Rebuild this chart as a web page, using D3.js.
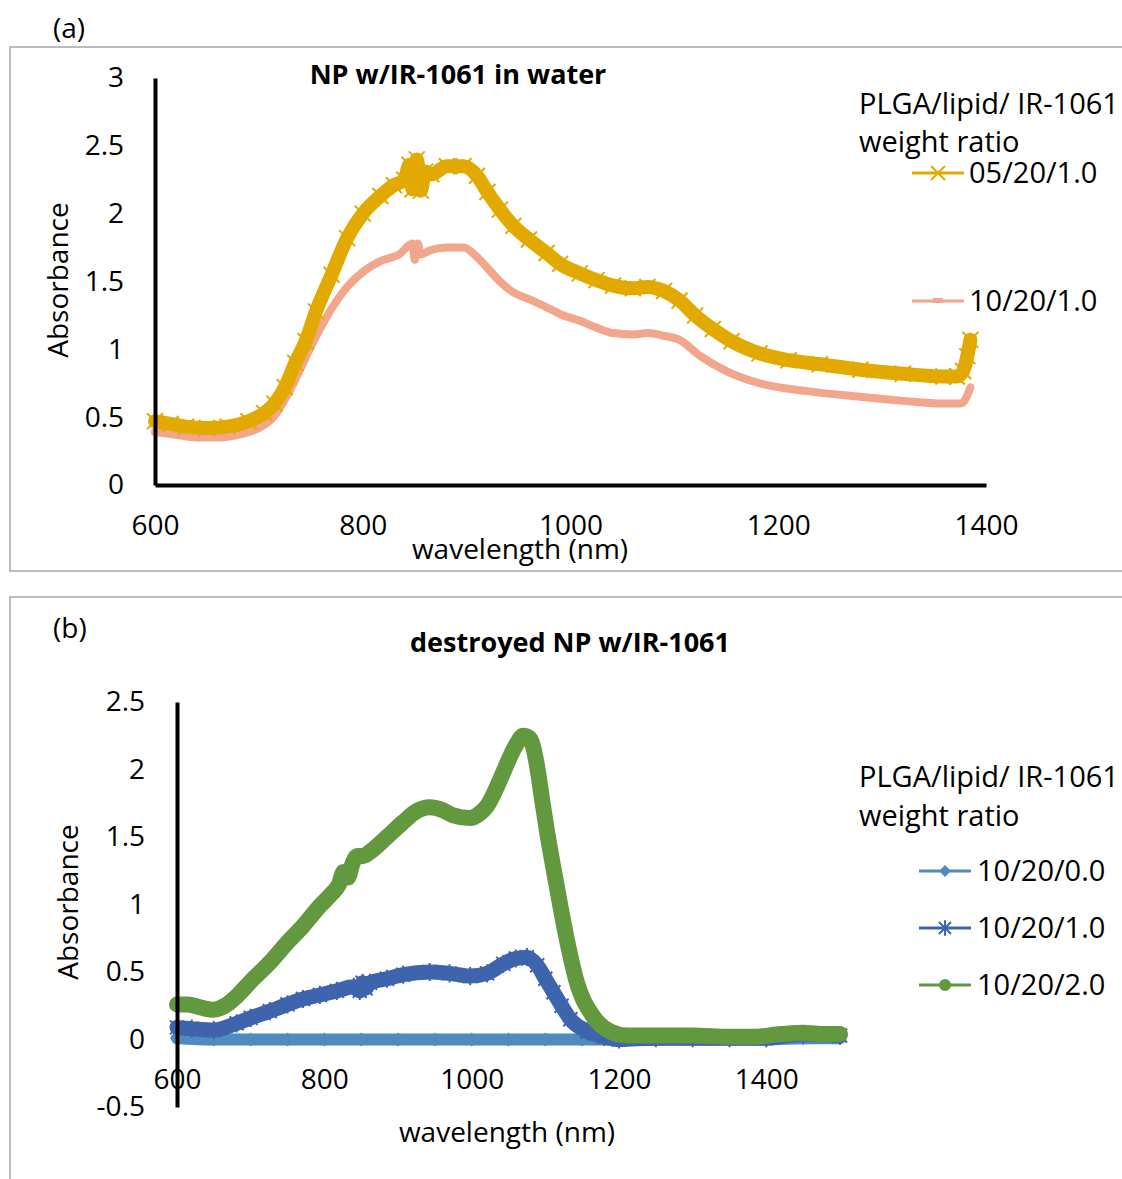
<!doctype html>
<html lang="en">
<head>
<meta charset="utf-8">
<script src="https://cdnjs.cloudflare.com/ajax/libs/d3/7.8.5/d3.min.js"></script>
<style type="text/css">
	body {
		margin: 0;
		background: #fff;
		font-family: 'Open Sans', sans-serif;
	}
	.tick text {
		font-family: 'Open Sans', sans-serif;
		font-size: 28px;
		fill: #000;
	}
	.lbl {
		font-family: 'Open Sans', sans-serif;
		font-size: 28px;
		fill: #000;
	}
	.leg {
		font-family: 'Open Sans', sans-serif;
		font-size: 29px;
		fill: #000;
	}
	.ttl {
		font-family: 'Open Sans', sans-serif;
		font-size: 27px;
		font-weight: 700;
		fill: #000;
	}
</style>
</head>
<body>
<script>

// ---- panel (a): NP w/IR-1061 in water ----
const aTicksX = [600, 800, 1000, 1200, 1400]
const aTicksY = [0, 0.5, 1, 1.5, 2, 2.5, 3]

// 05/20/1.0
const aGoldWl  = [600, 615, 630, 650, 670, 690, 705, 715, 725, 735, 745, 755, 770, 785, 800, 817, 830, 840, 845, 848, 852, 856, 860, 866, 881, 897, 910, 920, 932, 945, 960, 977, 990, 1009, 1025, 1041, 1060, 1074, 1090, 1105, 1120, 1137, 1155, 1182, 1210, 1240, 1279, 1320, 1359, 1372, 1378, 1382, 1385]
const aGoldAbs = [0.47, 0.45, 0.43, 0.42, 0.43, 0.47, 0.53, 0.60, 0.72, 0.90, 1.06, 1.28, 1.55, 1.82, 2.00, 2.13, 2.21, 2.25, 2.36, 2.18, 2.40, 2.17, 2.31, 2.29, 2.35, 2.35, 2.28, 2.16, 2.03, 1.91, 1.81, 1.71, 1.63, 1.56, 1.51, 1.47, 1.45, 1.46, 1.43, 1.36, 1.25, 1.15, 1.06, 0.97, 0.92, 0.89, 0.85, 0.82, 0.80, 0.80, 0.84, 0.95, 1.07]

// 10/20/1.0
const aPinkWl  = [600, 620, 640, 660, 680, 700, 714, 730, 752, 770, 785, 800, 817, 835, 848, 850, 853, 856, 865, 881, 897, 910, 920, 932, 945, 960, 977, 990, 1009, 1025, 1041, 1060, 1074, 1090, 1105, 1125, 1150, 1182, 1230, 1279, 1320, 1359, 1375, 1380, 1385]
const aPinkAbs = [0.39, 0.37, 0.35, 0.35, 0.37, 0.42, 0.50, 0.70, 1.05, 1.30, 1.46, 1.57, 1.65, 1.70, 1.78, 1.66, 1.78, 1.70, 1.73, 1.75, 1.75, 1.68, 1.60, 1.50, 1.42, 1.37, 1.31, 1.26, 1.21, 1.16, 1.12, 1.11, 1.12, 1.10, 1.07, 0.95, 0.84, 0.75, 0.69, 0.65, 0.62, 0.60, 0.60, 0.63, 0.72]

// ---- panel (b): destroyed NP w/IR-1061 ----
const bTicksX = [600, 800, 1000, 1200, 1400]
const bTicksY = [-0.5, 0, 0.5, 1, 1.5, 2, 2.5]

// 10/20/0.0
const bLightWl  = [600, 650, 700, 750, 800, 850, 900, 950, 1000, 1050, 1100, 1150, 1200, 1250, 1300, 1350, 1400, 1450, 1500]
const bLightAbs = [0.01, 0.00, 0.00, 0.00, 0.00, 0.00, 0.00, 0.00, 0.00, 0.00, 0.00, 0.00, 0.00, 0.00, 0.00, 0.00, 0.00, 0.01, 0.01]

// 10/20/1.0
const bBlueWl  = [600, 620, 650, 681, 700, 726, 750, 771, 794, 817, 840, 848, 852, 856, 862, 885, 907, 943, 970, 998, 1021, 1043, 1060, 1075, 1089, 1100, 1111, 1122, 1134, 1157, 1180, 1200, 1250, 1300, 1350, 1400, 1450, 1500]
const bBlueAbs = [0.09, 0.08, 0.07, 0.12, 0.16, 0.21, 0.26, 0.30, 0.33, 0.36, 0.39, 0.36, 0.42, 0.38, 0.42, 0.45, 0.48, 0.50, 0.49, 0.47, 0.49, 0.56, 0.60, 0.61, 0.55, 0.45, 0.35, 0.25, 0.15, 0.06, 0.02, 0.00, 0.01, 0.01, 0.01, 0.01, 0.04, 0.03]

// 10/20/2.0
const bGreenWl  = [600, 615, 630, 649, 665, 681, 700, 726, 750, 771, 794, 810, 820, 826, 832, 838, 845, 853, 862, 885, 907, 925, 943, 960, 975, 998, 1010, 1021, 1035, 1043, 1060, 1070, 1079, 1088, 1095, 1102, 1110, 1120, 1130, 1143, 1165, 1188, 1210, 1260, 1300, 1350, 1380, 1420, 1450, 1480, 1500]
const bGreenAbs = [0.26, 0.26, 0.24, 0.22, 0.25, 0.32, 0.43, 0.57, 0.72, 0.84, 0.99, 1.08, 1.15, 1.24, 1.20, 1.30, 1.36, 1.36, 1.39, 1.50, 1.61, 1.69, 1.72, 1.70, 1.66, 1.64, 1.67, 1.73, 1.88, 1.98, 2.18, 2.25, 2.23, 2.05, 1.80, 1.55, 1.30, 1.00, 0.72, 0.42, 0.17, 0.06, 0.03, 0.03, 0.03, 0.02, 0.02, 0.04, 0.05, 0.04, 0.04]

const legendTitle = ["PLGA/lipid/ IR-1061", "weight ratio"]

const w = 1122
const h = 1179

const svg = d3.select("body")
	.append("svg")
	.attr("width", w)
	.attr("height", h)

svg.append("rect").attr("width", w).attr("height", h).attr("fill", "#fff")

// panel frames
svg.append("rect")
	.attr("x", 10).attr("y", 47).attr("width", 1130).attr("height", 524)
	.attr("fill", "none").attr("stroke", "#a6a6a6").attr("stroke-width", 1.5)
svg.append("rect")
	.attr("x", 10).attr("y", 597).attr("width", 1130).attr("height", 620)
	.attr("fill", "none").attr("stroke", "#a6a6a6").attr("stroke-width", 1.5)

// marker shapes
const crossPath = (s) => `M${-s},${-s}L${s},${s}M${-s},${s}L${s},${-s}`
const starPath = (s) => `M${-s},${-s}L${s},${s}M${-s},${s}L${s},${-s}M0,${-s * 1.3}L0,${s * 1.3}`
const diamondPath = (s) => `M0,${-s}L${s},0L0,${s}L${-s},0Z`

let drawSeries = (g, xs, ys, wl, ab, color, width) => {
	const pts = wl.map((d, i) => [d, ab[i]])
	const line = d3.line()
		.x(d => xs(d[0]))
		.y(d => ys(d[1]))
		.curve(d3.curveMonotoneX)
	g.append("path")
		.datum(pts)
		.attr("d", line)
		.attr("fill", "none")
		.attr("stroke", color)
		.attr("stroke-width", width)
		.attr("stroke-linecap", "round")
		.attr("stroke-linejoin", "round")
	return pts
}

// ================= panel (a) =================
const xA = d3.scaleLinear().domain([600, 1400]).range([155, 986])
const yA = d3.scaleLinear().domain([0, 3]).range([485, 78])

const gA = svg.append("g")

const pinkPts = drawSeries(gA, xA, yA, aPinkWl, aPinkAbs, "#f2a68c", 8)
const goldPts = drawSeries(gA, xA, yA, aGoldWl, aGoldAbs, "#e2aa00", 14)

// x markers on the gold series
gA.selectAll(".gx")
	.data(goldPts)
	.enter()
	.append("path")
	.attr("class", "gx")
	.attr("transform", d => `translate(${xA(d[0])},${yA(d[1])})`)
	.attr("d", crossPath(8))
	.attr("stroke", "#e2aa00")
	.attr("stroke-width", 2)
	.attr("fill", "none")

// axes
gA.append("g")
	.attr("transform", "translate(155,0)")
	.call(d3.axisLeft(yA).tickValues(aTicksY).tickSize(0).tickPadding(31).tickFormat(d3.format("")))
	.call(g => g.select(".domain").attr("stroke", "#000").attr("stroke-width", 4))

gA.append("g")
	.attr("transform", "translate(0,485)")
	.call(d3.axisBottom(xA).tickValues(aTicksX).tickSize(0).tickPadding(30).tickFormat(d3.format("")))
	.call(g => g.select(".domain").attr("stroke", "#000").attr("stroke-width", 4))

svg.append("text").attr("class", "lbl").attr("x", 53).attr("y", 38).text("(a)")

svg.append("text").attr("class", "ttl")
	.attr("x", 458).attr("y", 84).attr("text-anchor", "middle")
	.text("NP w/IR-1061 in water")

svg.append("text").attr("class", "lbl")
	.attr("x", 520).attr("y", 559).attr("text-anchor", "middle")
	.text("wavelength (nm)")

svg.append("text").attr("class", "lbl")
	.attr("transform", "translate(68,280) rotate(-90)")
	.attr("text-anchor", "middle")
	.text("Absorbance")

// legend (a)
svg.selectAll(".lta")
	.data(legendTitle)
	.enter()
	.append("text")
	.attr("class", "leg")
	.attr("x", 859)
	.attr("y", (d, i) => 114 + i * 38)
	.text(d => d)

const legA = [
	{ name: "05/20/1.0", color: "#e2aa00", y: 173, mark: "cross" },
	{ name: "10/20/1.0", color: "#f2a68c", y: 301, mark: "dash" }
]
legA.forEach(d => {
	svg.append("line")
		.attr("x1", 912).attr("x2", 964).attr("y1", d.y).attr("y2", d.y)
		.attr("stroke", d.color).attr("stroke-width", 3)
	if (d.mark == "cross") {
		svg.append("path")
			.attr("transform", `translate(938,${d.y})`)
			.attr("d", crossPath(7))
			.attr("stroke", d.color).attr("stroke-width", 2)
	} else {
		svg.append("rect")
			.attr("x", 933).attr("y", d.y - 3).attr("width", 10).attr("height", 5)
			.attr("fill", d.color)
	}
	svg.append("text").attr("class", "leg")
		.attr("x", 969).attr("y", d.y + 10)
		.text(d.name)
})

// ================= panel (b) =================
const xB = d3.scaleLinear().domain([600, 1500]).range([177, 840])
const yB = d3.scaleLinear().domain([-0.5, 2.5]).range([1107, 702])

const gB = svg.append("g")

const lightPts = drawSeries(gB, xB, yB, bLightWl, bLightAbs, "#4f8ac0", 12)
gB.selectAll(".ld")
	.data(lightPts)
	.enter()
	.append("path")
	.attr("class", "ld")
	.attr("transform", d => `translate(${xB(d[0])},${yB(d[1])})`)
	.attr("d", diamondPath(7))
	.attr("fill", "#4f8ac0")

const bluePts = drawSeries(gB, xB, yB, bBlueWl, bBlueAbs, "#3f64ae", 15)
gB.selectAll(".bs")
	.data(bluePts)
	.enter()
	.append("path")
	.attr("class", "bs")
	.attr("transform", d => `translate(${xB(d[0])},${yB(d[1])})`)
	.attr("d", starPath(7))
	.attr("stroke", "#3f64ae")
	.attr("stroke-width", 2)

const greenPts = drawSeries(gB, xB, yB, bGreenWl, bGreenAbs, "#62993e", 16)

// axes
gB.append("g")
	.attr("transform", "translate(177,0)")
	.call(d3.axisLeft(yB).tickValues(bTicksY).tickSize(0).tickPadding(32).tickFormat(d3.format("")))
	.call(g => g.select(".domain").attr("stroke", "#000").attr("stroke-width", 4))
	.call(g => g.selectAll(".tick text").text(d => d < 0 ? "-" + Math.abs(d) : d))

gB.append("g")
	.attr("transform", `translate(0,${yB(0)})`)
	.call(d3.axisBottom(xB).tickValues(bTicksX).tickSize(0).tickPadding(30).tickFormat(d3.format("")))
	.call(g => g.select(".domain").remove())

svg.append("text").attr("class", "lbl").attr("x", 53).attr("y", 638).text("(b)")

svg.append("text").attr("class", "ttl")
	.attr("x", 570).attr("y", 652).attr("text-anchor", "middle")
	.text("destroyed NP w/IR-1061")

svg.append("text").attr("class", "lbl")
	.attr("x", 507).attr("y", 1142).attr("text-anchor", "middle")
	.text("wavelength (nm)")

svg.append("text").attr("class", "lbl")
	.attr("transform", "translate(78,902) rotate(-90)")
	.attr("text-anchor", "middle")
	.text("Absorbance")

// legend (b)
svg.selectAll(".ltb")
	.data(legendTitle)
	.enter()
	.append("text")
	.attr("class", "leg")
	.attr("x", 859)
	.attr("y", (d, i) => 787 + i * 39)
	.text(d => d)

const legB = [
	{ name: "10/20/0.0", color: "#4f8ac0", y: 871, mark: "diamond" },
	{ name: "10/20/1.0", color: "#3f64ae", y: 928, mark: "star" },
	{ name: "10/20/2.0", color: "#62993e", y: 985, mark: "circle" }
]
legB.forEach(d => {
	svg.append("line")
		.attr("x1", 919).attr("x2", 971).attr("y1", d.y).attr("y2", d.y)
		.attr("stroke", d.color).attr("stroke-width", 3)
	const m = svg.append("g").attr("transform", `translate(945,${d.y})`)
	if (d.mark == "diamond") {
		m.append("path").attr("d", diamondPath(6)).attr("fill", d.color)
	} else if (d.mark == "star") {
		m.append("path").attr("d", starPath(6)).attr("stroke", d.color).attr("stroke-width", 2)
	} else {
		m.append("circle").attr("r", 6).attr("fill", d.color)
	}
	svg.append("text").attr("class", "leg")
		.attr("x", 977).attr("y", d.y + 10)
		.text(d.name)
})

</script>
</body>
</html>
